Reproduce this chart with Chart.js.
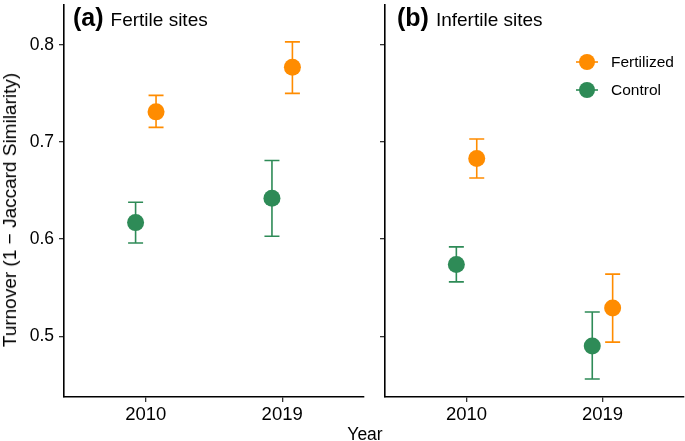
<!DOCTYPE html>
<html>
<head>
<meta charset="utf-8">
<script src="https://cdn.jsdelivr.net/npm/chart.js@4/dist/chart.umd.min.js"></script>
<style>
  body { margin: 0; background: #fff; font-family: "Liberation Sans", Arial, sans-serif; }
  #wrap { position: relative; width: 685px; height: 441px; overflow: hidden; }
  canvas { position: absolute; top: 0; }
  .ptitle { position: absolute; top: 3px; font-size: 19px; color: #000; white-space: nowrap; }
  .ptitle b { font-size: 25px; margin-right: 7px; }
  #ytitle { position: absolute; left: 10px; top: 210px; transform: translate(-50%, -50%) rotate(-90deg);
            font-size: 19px; white-space: nowrap; color: #000; }
  #xtitle { position: absolute; left: 365px; top: 424px; transform: translateX(-50%); font-size: 17.5px; color: #000; }
</style>
</head>
<body>
<div id="wrap">
  <canvas id="left" width="370" height="441" style="left:0"></canvas>
  <canvas id="right" width="315" height="441" style="left:370px"></canvas>
  <div class="ptitle" style="left:73px"><b>(a)</b>Fertile sites</div>
  <div class="ptitle" style="left:397px"><b>(b)</b>Infertile sites</div>
  <div id="ytitle">Turnover (1 − Jaccard Similarity)</div>
  <div id="xtitle">Year</div>
</div>
<script>
const years = ["2010", "2019"];
const yTicks = [0.5, 0.6, 0.7, 0.8];

// (a) fertile sites
const fertileFertilized = [0.731, 0.777];
const fertileFertilizedLow = [0.715, 0.750];
const fertileFertilizedHigh = [0.748, 0.803];
const fertileControl = [0.617, 0.642];
const fertileControlLow = [0.596, 0.603];
const fertileControlHigh = [0.638, 0.681];

// (b) infertile sites
const infertileFertilized = [0.683, 0.529];
const infertileFertilizedLow = [0.663, 0.494];
const infertileFertilizedHigh = [0.703, 0.564];
const infertileControl = [0.574, 0.490];
const infertileControlLow = [0.556, 0.456];
const infertileControlHigh = [0.592, 0.525];

const ORANGE = "#FF8C00";
const GREEN = "#2E8B57";
const dodge = 0.075;
const font = "'Liberation Sans', Arial, sans-serif";

function points(vals, lo, hi, shift) {
    return vals.map((v, i) => ({ x: i + 1 + shift, y: v, lo: lo[i], hi: hi[i] }));
}

const errorBars = {
    id: "errorBars",
    beforeDatasetsDraw(chart) {
        const ctx = chart.ctx;
        const y = chart.scales.y;
        chart.data.datasets.forEach((ds, di) => {
            const meta = chart.getDatasetMeta(di);
            meta.data.forEach((pt, i) => {
                const d = ds.data[i];
                const top = y.getPixelForValue(d.hi), bot = y.getPixelForValue(d.lo);
                ctx.save();
                ctx.strokeStyle = ds.borderColor;
                ctx.lineWidth = 1.6;
                ctx.beginPath();
                ctx.moveTo(pt.x, top); ctx.lineTo(pt.x, bot);
                ctx.moveTo(pt.x - 7.5, top); ctx.lineTo(pt.x + 7.5, top);
                ctx.moveTo(pt.x - 7.5, bot); ctx.lineTo(pt.x + 7.5, bot);
                ctx.stroke();
                ctx.restore();
            });
        });
    }
};

const legendBox = {
    id: "legendBox",
    afterDraw(chart) {
        if (!chart.options.plugins.legendBox.show) return;
        const ctx = chart.ctx;
        const items = chart.data.datasets.slice().reverse();
        items.forEach((ds, i) => {
            const cx = 217, cy = 62 + i * 28;
            ctx.save();
            ctx.strokeStyle = ds.borderColor;
            ctx.lineWidth = 1.6;
            ctx.beginPath();
            ctx.moveTo(cx - 11, cy); ctx.lineTo(cx + 11, cy);
            ctx.stroke();
            ctx.fillStyle = ds.backgroundColor;
            ctx.beginPath();
            ctx.arc(cx, cy, 8, 0, Math.PI * 2);
            ctx.fill();
            ctx.fillStyle = "#000";
            ctx.font = "15.5px " + font;
            ctx.textBaseline = "middle";
            ctx.fillText(ds.label, 241, cy + 1);
            ctx.restore();
        });
    }
};

function noPad(s) {
    s.paddingTop = 0; s.paddingBottom = 0; s.paddingLeft = 0; s.paddingRight = 0;
}

function makePanel(id, fert, fertLo, fertHi, ctrl, ctrlLo, ctrlHi, showLabels, showLegend, yWidth, padRight) {
    return new Chart(document.getElementById(id), {
        type: "scatter",
        data: {
            datasets: [
                { label: "Control", data: points(ctrl, ctrlLo, ctrlHi, -dodge), backgroundColor: GREEN, borderColor: GREEN, pointRadius: 8.5, pointBorderWidth: 0 },
                { label: "Fertilized", data: points(fert, fertLo, fertHi, dodge), backgroundColor: ORANGE, borderColor: ORANGE, pointRadius: 8.5, pointBorderWidth: 0 }
            ]
        },
        options: {
            responsive: false,
            animation: false,
            layout: { autoPadding: false, padding: { left: 0, right: padRight, top: 5, bottom: 0 } },
            plugins: { legend: { display: false }, tooltip: { enabled: false }, legendBox: { show: showLegend } },
            scales: {
                x: {
                    type: "linear", min: 0.4, max: 2.6,
                    afterBuildTicks: s => { s.ticks = [{ value: 1 }, { value: 2 }]; },
                    afterFit: s => { s.height = 44; noPad(s); },
                    ticks: { callback: v => years[v - 1], color: "#000", font: { family: font, size: 18.5 }, padding: 2, maxRotation: 0 },
                    grid: { display: true, drawOnChartArea: false, drawTicks: true, tickLength: 5, color: "#333", lineWidth: 1.3 },
                    border: { display: true, color: "#000", width: 1.6 }
                },
                y: {
                    min: 0.4375, max: 0.841,
                    afterBuildTicks: s => { s.ticks = yTicks.map(v => ({ value: v })); },
                    afterFit: s => { s.width = yWidth; noPad(s); },
                    ticks: { callback: v => showLabels ? v.toFixed(1) : "", color: "#000", font: { family: font, size: 17.5 }, padding: 5 },
                    grid: { display: true, drawOnChartArea: false, drawTicks: true, tickLength: 5, color: "#333", lineWidth: 1.3 },
                    border: { display: true, color: "#000", width: 1.6 }
                }
            }
        },
        plugins: [errorBars, legendBox]
    });
}

makePanel("left", fertileFertilized, fertileFertilizedLow, fertileFertilizedHigh,
    fertileControl, fertileControlLow, fertileControlHigh, true, false, 64, 6);
makePanel("right", infertileFertilized, infertileFertilizedLow, infertileFertilizedHigh,
    infertileControl, infertileControlLow, infertileControlHigh, false, true, 15, 1);
</script>
</body>
</html>
